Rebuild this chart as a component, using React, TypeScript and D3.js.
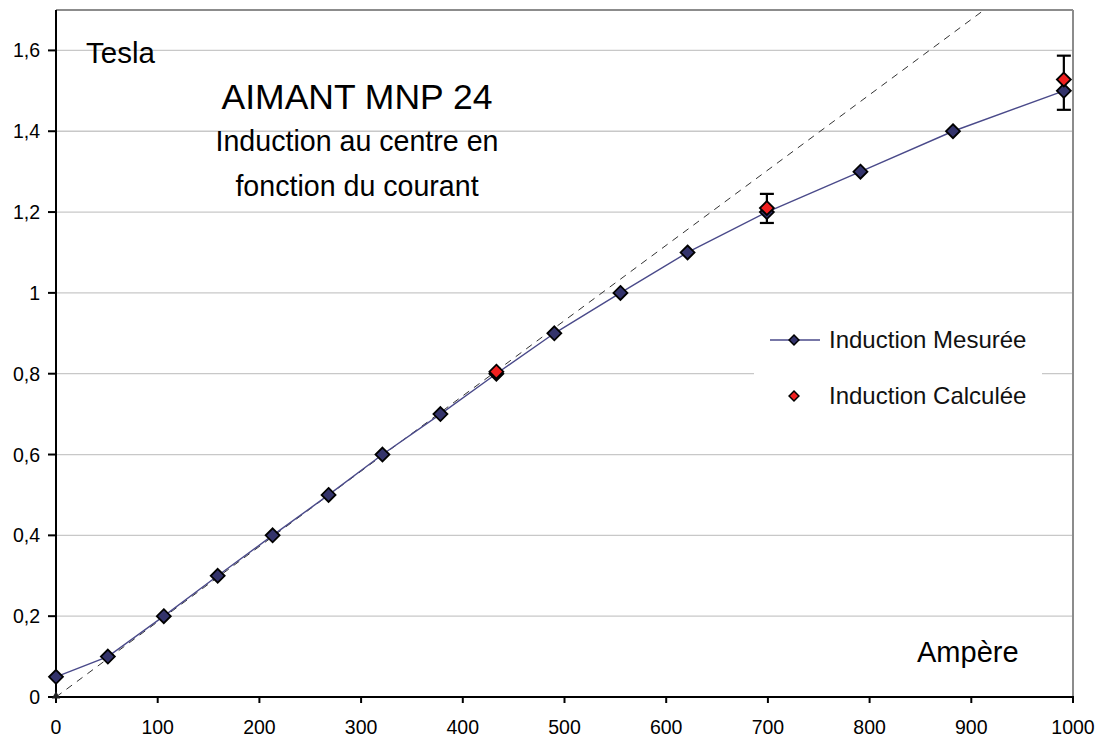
import React from "react";
import * as d3 from "d3";

// Measured induction at the centre of the magnet vs. current
const currentMeasured = [0, 51, 106, 159, 213, 268, 321, 378, 433, 490, 555, 621, 699, 791, 882, 991];
const inductionMeasured = [0.05, 0.1, 0.2, 0.3, 0.4, 0.5, 0.6, 0.7, 0.8, 0.9, 1.0, 1.1, 1.2, 1.3, 1.4, 1.5];

// Calculated induction with its uncertainty range
const currentCalc = [433, 699, 991];
const inductionCalc = [0.805, 1.21, 1.528];
const calcLow = [0.805, 1.173, 1.453];
const calcHigh = [0.805, 1.245, 1.587];

// Linear (unsaturated) reference line
const refCurrent = [0, 1000];
const refInduction = [0, 1.863];

const xTicks = [0, 100, 200, 300, 400, 500, 600, 700, 800, 900, 1000];
const yTicks = [0, 0.2, 0.4, 0.6, 0.8, 1.0, 1.2, 1.4, 1.6];

const W = 1104;
const H = 738;
const FONT = "'Liberation Sans', Arial, Helvetica, sans-serif";

const x = d3.scaleLinear().domain([0, 1000]).range([56, 1073]);
const y = d3.scaleLinear().domain([0, 1.7]).range([697, 10]);

const fmtY = (v: number) => String(+v.toFixed(1)).replace(".", ",");

const diamond = d3.symbol().type(d3.symbolDiamond2).size(124)();
const legendDiamond = d3.symbol().type(d3.symbolDiamond2).size(62)();

export default function App() {
  const [x0, x1] = x.range();
  const [yb, yt] = y.range();

  const measuredPts: [number, number][] = currentMeasured.map((c, i) => [c, inductionMeasured[i]]);
  const refPts: [number, number][] = refCurrent.map((c, i) => [c, refInduction[i]]);
  const line = d3
    .line<[number, number]>()
    .x((d) => x(d[0]))
    .y((d) => y(d[1]));

  return (
    <svg
      width={W}
      height={H}
      style={{ position: "absolute", left: 0, top: 0, background: "#fff" }}
      fontFamily={FONT}
    >
      <defs>
        <clipPath id="plot-clip">
          <rect x={x0} y={yt} width={x1 - x0} height={yb - yt} />
        </clipPath>
      </defs>

      {/* horizontal gridlines */}
      {yTicks
        .filter((t) => t > 0)
        .map((t) => (
          <line key={"g" + t} x1={x0} x2={x1} y1={y(t)} y2={y(t)} stroke="#c8c8c8" strokeWidth={1.3} />
        ))}

      {/* legend background */}
      <rect x={754} y={305} width={288} height={138} fill="#fff" />

      {/* plot frame: top and right */}
      <line x1={x0} x2={x1} y1={yt} y2={yt} stroke="#8c8c8c" strokeWidth={2} />
      <line x1={x1} x2={x1} y1={yt} y2={yb} stroke="#8c8c8c" strokeWidth={2} />

      {/* reference line */}
      <g clipPath="url(#plot-clip)">
        <path d={line(refPts) ?? ""} fill="none" stroke="#333" strokeWidth={1} strokeDasharray="7,6" />
      </g>

      {/* axes */}
      <line x1={x0} x2={x1 + 1} y1={yb} y2={yb} stroke="#000" strokeWidth={2} />
      <line x1={x0} x2={x0} y1={yt} y2={yb + 1} stroke="#000" strokeWidth={2} />
      {xTicks.map((t) => (
        <g key={"xt" + t}>
          <line x1={x(t)} x2={x(t)} y1={yb} y2={yb + 6} stroke="#000" strokeWidth={2} />
          <text x={x(t)} y={734} textAnchor="middle" fontSize={19.5} fill="#000">
            {t}
          </text>
        </g>
      ))}
      {yTicks.map((t) => (
        <g key={"yt" + t}>
          <line x1={x0 - 8} x2={x0} y1={y(t)} y2={y(t)} stroke="#000" strokeWidth={2} />
          <text x={40} y={y(t) + 7} textAnchor="end" fontSize={19.5} fill="#000">
            {fmtY(t)}
          </text>
        </g>
      ))}

      {/* origin marker of the reference line */}
      <path
        d={d3.symbol().type(d3.symbolTriangle).size(30)() ?? ""}
        transform={`translate(${x(0)},${y(0) - 1})`}
        fill="#222"
      />

      {/* measured series */}
      <path d={line(measuredPts) ?? ""} fill="none" stroke="#4a4a8a" strokeWidth={1.4} />

      {/* error bars for calculated values */}
      {currentCalc.map((c, i) =>
        calcHigh[i] - calcLow[i] > 0.001 ? (
          <g key={"eb" + i} stroke="#000" strokeWidth={2.2}>
            <line x1={x(c)} x2={x(c)} y1={y(calcLow[i])} y2={y(calcHigh[i])} />
            <line x1={x(c) - 7} x2={x(c) + 7} y1={y(calcLow[i])} y2={y(calcLow[i])} />
            <line x1={x(c) - 7} x2={x(c) + 7} y1={y(calcHigh[i])} y2={y(calcHigh[i])} />
          </g>
        ) : null
      )}

      {measuredPts.map((d, i) => (
        <path
          key={"m" + i}
          d={diamond ?? ""}
          transform={`translate(${x(d[0])},${y(d[1])})`}
          fill="#33336b"
          stroke="#000"
          strokeWidth={1.8}
        />
      ))}

      {currentCalc.map((c, i) => (
        <path
          key={"c" + i}
          d={diamond ?? ""}
          transform={`translate(${x(c)},${y(inductionCalc[i])})`}
          fill="#f02020"
          stroke="#000"
          strokeWidth={1.8}
        />
      ))}

      {/* legend */}
      <line x1={770} x2={820} y1={340} y2={340} stroke="#4a4a8a" strokeWidth={1.4} />
      <path d={legendDiamond ?? ""} transform="translate(794,340)" fill="#33336b" stroke="#000" strokeWidth={1.5} />
      <text x={829} y={348} fontSize={24} fill="#111">
        Induction Mesurée
      </text>
      <path d={legendDiamond ?? ""} transform="translate(794,396)" fill="#f02020" stroke="#000" strokeWidth={1.5} />
      <text x={829} y={404} fontSize={24} fill="#111">
        Induction Calculée
      </text>

      {/* annotations */}
      <text x={86} y={63} fontSize={29.5} fill="#000">
        Tesla
      </text>
      <text x={357} y={109} fontSize={35.5} textAnchor="middle" fill="#000">
        AIMANT MNP 24
      </text>
      <text x={357} y={151} fontSize={28.6} textAnchor="middle" fill="#000">
        Induction au centre en
      </text>
      <text x={357} y={196} fontSize={28.6} textAnchor="middle" fill="#000">
        fonction du courant
      </text>
      <text x={917} y={662} fontSize={29} fill="#000">
        Ampère
      </text>
    </svg>
  );
}
